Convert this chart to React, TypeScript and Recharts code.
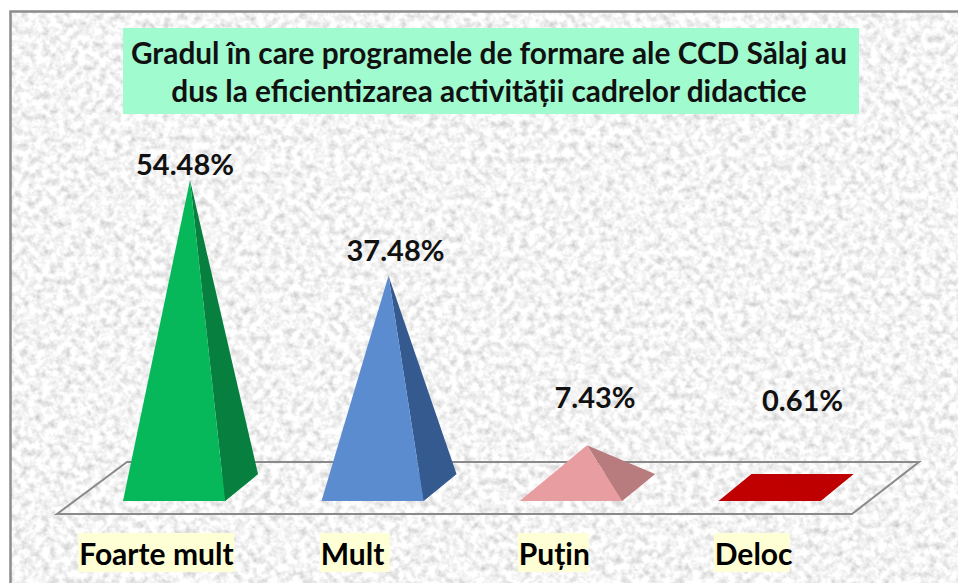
import { BarChart, Bar, XAxis, YAxis, LabelList } from 'recharts'

const FONT = 'Lato, Carlito, sans-serif'

const categories = ['Foarte mult', 'Mult', 'Puțin', 'Deloc']
const shares = [54.48, 37.48, 7.43, 0.61]
const titleLines = [
  'Gradul în care programele de formare ale CCD Sălaj au',
  'dus la eficientizarea activității cadrelor didactice',
]

const FRONT = ['#07B85A', '#5B8CCF', '#E89DA0', '#C00000']
const SIDE = ['#067F3F', '#355A90', '#B87B7E', '#BE0000']

// where Excel left the labels, relative to each pyramid tip
const LABEL_SHIFT = [
  { dx: -5, dy: -17 },
  { dx: 7, dy: -26 },
  { dx: 8, dy: -49 },
  { dx: 17, dy: -84 },
]
const TICK_BOX = [156, 70, 71, 76]

function Pyramid(props: any) {
  const { x, y, width, height, index } = props
  const cx = x + width / 2
  const floor = y + height
  const base = [
    [cx - 67, floor + 14],
    [cx + 35, floor + 14],
    [cx + 68, floor - 13],
    [cx - 34, floor - 13],
  ]
  const pts = (p: number[][]) => p.map((q) => q.join(',')).join(' ')
  return (
    <g>
      <polygon points={pts(base)} fill={FRONT[index]} />
      <polygon points={pts([base[1], base[2], [cx, y]])} fill={SIDE[index]} />
      <polygon points={pts([base[0], base[1], [cx, y]])} fill={FRONT[index]} />
    </g>
  )
}

function ShareLabel(props: any) {
  const { x, y, width, value, index } = props
  const shift = LABEL_SHIFT[index]
  return (
    <text
      x={x + width / 2 + shift.dx}
      y={y + shift.dy}
      textAnchor="middle"
      dominantBaseline="central"
      fontFamily={FONT}
      fontWeight={700}
      fontSize={29}
      fill="#111"
    >
      {value.toFixed(2)}%
    </text>
  )
}

function CategoryTick(props: any) {
  const { x, payload, index } = props
  const w = TICK_BOX[index]
  const left = x - 34 - w / 2
  return (
    <g>
      <rect x={left} y={533} width={w} height={39} fill="#FFFFD5" />
      <text
        x={left + 1}
        y={553}
        dominantBaseline="central"
        fontFamily={FONT}
        fontWeight={700}
        fontSize={30}
        fill="#000"
      >
        {payload.value}
      </text>
    </g>
  )
}

export default function App() {
  const data = categories.map((name, i) => ({ name, value: shares[i] }))

  return (
    <div style={{ position: 'absolute', left: 0, top: 0, width: 958, height: 583, background: '#fff', overflow: 'hidden' }}>
      <svg width={958} height={583} style={{ position: 'absolute', left: 0, top: 0 }}>
        <filter id="paper" x="0" y="0" width="100%" height="100%">
          <feTurbulence type="fractalNoise" baseFrequency="0.14" numOctaves={3} seed={7} />
          <feColorMatrix
            type="matrix"
            values="0.75 0 0 0 0.53  0.75 0 0 0 0.53  0.75 0 0 0 0.53  0 0 0 0 1"
          />
          <feGaussianBlur stdDeviation={0.7} />
        </filter>
        <rect x={10} y={11} width={960} height={590} filter="url(#paper)" />
        <rect x={10.5} y={11.5} width={960} height={590} fill="none" stroke="#8C8C8C" strokeWidth={2.5} />
        <rect x={123} y={28} width={736} height={86} fill="#A0FBCF" />
        {titleLines.map((line, i) => (
          <text
            key={line}
            x={489}
            y={52 + i * 38}
            textAnchor="middle"
            dominantBaseline="central"
            fontFamily={FONT}
            fontWeight={700}
            fontSize={29.8}
            fill="#111"
          >
            {line}
          </text>
        ))}
        <polygon points="57,514 852,514 919,462 127,462" fill="none" stroke="#8A8A8A" strokeWidth={2} />
      </svg>
      <div style={{ position: 'absolute', left: 0, top: 0 }}>
        <BarChart
          width={958}
          height={583}
          data={data}
          margin={{ top: 149, right: 73, bottom: 0, left: 91 }}
        >
          <XAxis
            dataKey="name"
            axisLine={false}
            tickLine={false}
            height={96}
            interval={0}
            tick={CategoryTick}
          />
          <YAxis hide domain={[0, 60]} />
          <Bar dataKey="value" isAnimationActive={false} barSize={100} shape={Pyramid}>
            <LabelList dataKey="value" content={ShareLabel} />
          </Bar>
        </BarChart>
      </div>
    </div>
  )
}
